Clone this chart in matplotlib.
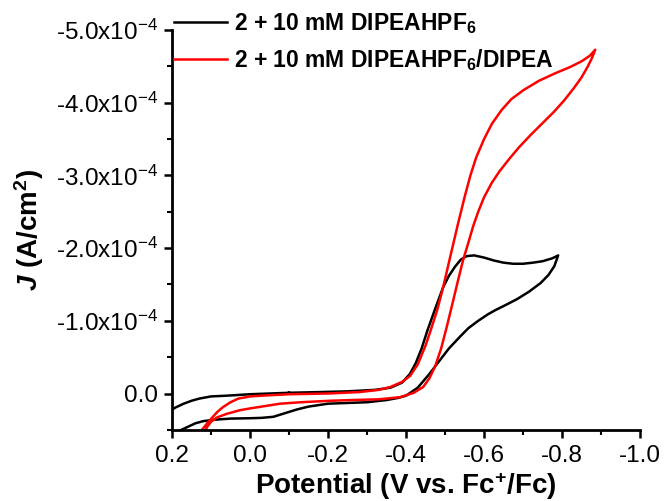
import numpy as np
import matplotlib
matplotlib.use("Agg")
import matplotlib.pyplot as plt
from matplotlib.ticker import MultipleLocator, FuncFormatter

plt.rcParams["font.family"] = "Liberation Sans"
plt.rcParams["mathtext.fontset"] = "custom"
plt.rcParams["mathtext.rm"] = "Liberation Sans"
plt.rcParams["mathtext.it"] = "Liberation Sans:italic"
plt.rcParams["mathtext.bf"] = "Liberation Sans:bold"
plt.rcParams["mathtext.bfit"] = "Liberation Sans:italic:bold"

# CV traces, potential in V vs Fc+/Fc, current density in units of 1e-4 A/cm2
black_v = [-0.10, -0.05, 0.00, 0.03, 0.06, 0.10, 0.13, 0.15, 0.17, 0.19, 0.20, 0.22,
           0.24, 0.25, 0.24, 0.21, 0.19, 0.18, 0.16, 0.14, 0.12, 0.09, 0.05, 0.00,
           -0.03, -0.06, -0.09, -0.12, -0.15, -0.20, -0.25, -0.30, -0.35, -0.38,
           -0.40, -0.43, -0.46, -0.487, -0.51, -0.538, -0.56, -0.585, -0.61, -0.63,
           -0.66, -0.685, -0.715, -0.745, -0.765, -0.78, -0.79,
           -0.775, -0.75, -0.725, -0.70, -0.675, -0.65, -0.625, -0.60, -0.575,
           -0.555, -0.54, -0.525, -0.51, -0.495, -0.475, -0.455, -0.44, -0.425,
           -0.41, -0.39, -0.36, -0.32, -0.25, -0.18, -0.10]
black_j = [-0.01, 0.00, 0.01, 0.02, 0.03, 0.04, 0.07, 0.10, 0.14, 0.19, 0.22, 0.29,
           0.38, 0.48, 0.58, 0.60, 0.55, 0.51, 0.46, 0.41, 0.38, 0.36, 0.345, 0.34,
           0.335, 0.32, 0.27, 0.22, 0.18, 0.14, 0.13, 0.12, 0.09, 0.06,
           0.03, -0.08, -0.27, -0.46, -0.62, -0.78, -0.90, -1.00, -1.09, -1.15,
           -1.23, -1.30, -1.40, -1.52, -1.63, -1.75, -1.90,
           -1.86, -1.82, -1.80, -1.785, -1.785, -1.80, -1.83, -1.87, -1.90,
           -1.89, -1.84, -1.74, -1.62, -1.46, -1.17, -0.87, -0.62, -0.42,
           -0.27, -0.15, -0.08, -0.05, -0.03, -0.02, -0.01]

red_v = [0.13, 0.123, 0.11, 0.10, 0.085, 0.07, 0.05, 0.03, 0.00, -0.03, -0.10, -0.20,
         -0.28, -0.33, -0.36, -0.39, -0.41, -0.43, -0.45, -0.462, -0.48, -0.495,
         -0.515, -0.533, -0.55, -0.565, -0.58, -0.60, -0.62, -0.645, -0.67, -0.70,
         -0.74, -0.78, -0.82, -0.85, -0.872, -0.885,
         -0.877, -0.866, -0.85, -0.83, -0.805, -0.78, -0.75, -0.72, -0.69,
         -0.665, -0.64, -0.62, -0.60, -0.585, -0.572, -0.56, -0.546, -0.533,
         -0.52, -0.505, -0.49, -0.475, -0.46, -0.444, -0.42, -0.385, -0.33,
         -0.26, -0.205, -0.13, -0.077, -0.03, 0.00, 0.026, 0.06, 0.085, 0.10,
         0.11, 0.115, 0.12]
red_j = [0.62, 0.50, 0.41, 0.35, 0.26, 0.19, 0.12, 0.07, 0.04, 0.03, 0.01, 0.00,
         -0.02, -0.05, -0.09, -0.16, -0.24, -0.40, -0.66, -0.85, -1.15, -1.46,
         -1.92, -2.33, -2.70, -3.00, -3.25, -3.50, -3.71, -3.90, -4.05, -4.17,
         -4.30, -4.40, -4.49, -4.57, -4.65, -4.73,
         -4.62, -4.50, -4.35, -4.20, -4.03, -3.88, -3.72, -3.56, -3.39,
         -3.23, -3.06, -2.90, -2.70, -2.50, -2.30, -2.08, -1.83, -1.55,
         -1.26, -0.93, -0.62, -0.38, -0.21, -0.09, -0.01, 0.05, 0.08,
         0.09, 0.10, 0.12, 0.14, 0.18, 0.205, 0.23, 0.28, 0.33, 0.39,
         0.46, 0.52, 0.60]

labels = [r"2 + 10 mM DIPEAHPF$_{\mathbf{6}}$",
          r"2 + 10 mM DIPEAHPF$_{\mathbf{6}}$/DIPEA"]

fig = plt.figure(figsize=(6.64, 5.01), dpi=100)
ax = fig.add_axes([0.259, 0.142, 0.705, 0.798])

ax.plot(black_v, np.array(black_j) * 1e-4, color="black", lw=1.8, label=labels[0])
ax.plot(red_v, np.array(red_j) * 1e-4, color="red", lw=1.8, label=labels[1])

ax.set_xlim(0.2, -1.0)
ax.set_ylim(0.5e-4, -5.0e-4)

ax.xaxis.set_major_locator(MultipleLocator(0.2))
ax.xaxis.set_minor_locator(MultipleLocator(0.1))
ax.yaxis.set_major_locator(MultipleLocator(1e-4))
ax.yaxis.set_minor_locator(MultipleLocator(0.5e-4))


def yfmt(val, pos):
    m = round(val / 1e-4, 1)
    if abs(m) < 1e-9:
        return "0.0"
    return r"%.1fx10$^{-4}$" % m


ax.yaxis.set_major_formatter(FuncFormatter(yfmt))
ax.xaxis.set_major_formatter(FuncFormatter(lambda v, p: "%.1f" % v if abs(v) > 1e-9 else "0.0"))

for s in ["top", "right"]:
    ax.spines[s].set_visible(False)
for s in ["left", "bottom"]:
    ax.spines[s].set_linewidth(2)
ax.tick_params(which="major", direction="out", length=6, width=1.8, labelsize=17.5)
ax.tick_params(axis="x", which="major", pad=5)
ax.tick_params(axis="y", which="major", pad=4)
ax.tick_params(which="minor", direction="out", length=3.5, width=1.5)

ax.set_xlabel(r"Potential (V vs. Fc$^{\mathbf{+}}$/Fc)", fontsize=20, fontweight="bold", labelpad=2)
ax.set_ylabel(r"$\mathbfit{J}$ (A/cm$^{\mathbf{2}}$)", fontsize=20, fontweight="bold", labelpad=7)

ax.legend(loc="upper left", bbox_to_anchor=(0.262, 0.978), bbox_transform=fig.transFigure,
          frameon=False, prop={"weight": "bold", "size": 16.5}, handlelength=2.3,
          handletextpad=0.3, labelspacing=0.5, borderpad=0, borderaxespad=0)

fig.savefig("out.png", dpi=100)
